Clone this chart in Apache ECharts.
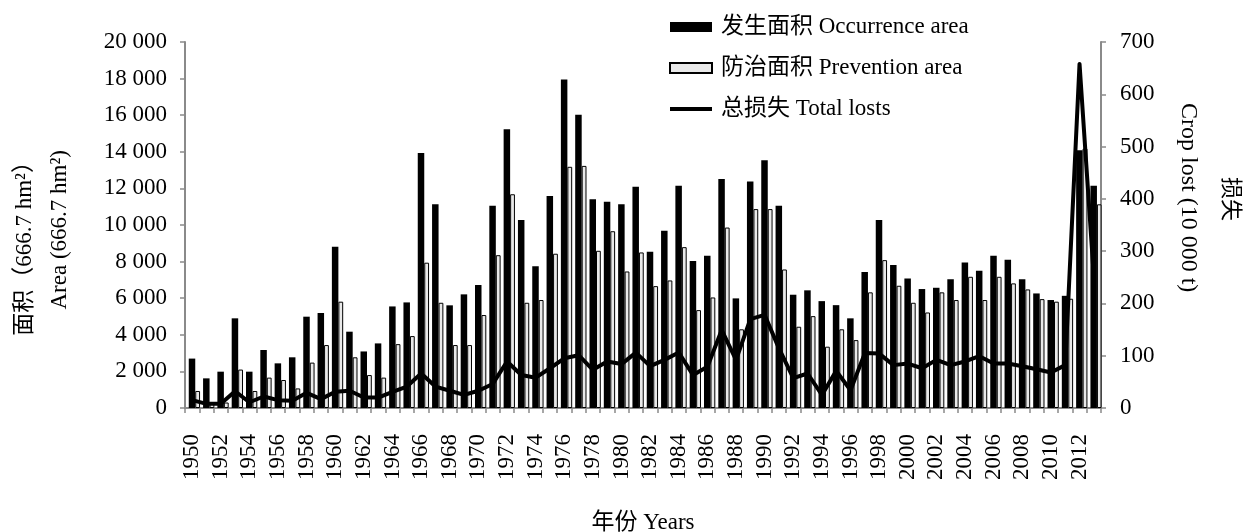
<!DOCTYPE html>
<html>
<head>
<meta charset="utf-8">
<script src="https://cdn.jsdelivr.net/npm/echarts@6/dist/echarts.min.js"></script>
<style>
  html, body { margin: 0; padding: 0; background: #fff; }
  #chart { width: 1245px; height: 532px; }
</style>
</head>
<body>
<div id="chart"></div>
<script>
// Years on the category axis
const years = [
  '1950','1951','1952','1953','1954','1955','1956','1957','1958','1959',
  '1960','1961','1962','1963','1964','1965','1966','1967','1968','1969',
  '1970','1971','1972','1973','1974','1975','1976','1977','1978','1979',
  '1980','1981','1982','1983','1984','1985','1986','1987','1988','1989',
  '1990','1991','1992','1993','1994','1995','1996','1997','1998','1999',
  '2000','2001','2002','2003','2004','2005','2006','2007','2008','2009',
  '2010','2011','2012','2013'
];

// 发生面积 Occurrence area (666.7 hm²)
const occurrenceArea = [
  2700, 1620, 1985, 4900, 1985, 3170, 2440, 2770, 4990, 5190,
  8810, 4170, 3090, 3530, 5550, 5770, 13940, 11140, 5610, 6210,
  6720, 11050, 15230, 10270, 7740, 11580, 17950, 16030, 11410, 11270,
  11140, 12090, 8540, 9680, 12140, 8030, 8320, 12520, 5990, 12380,
  13540, 11050, 6190, 6430, 5840, 5620, 4900, 7430, 10270, 7810,
  7080, 6500, 6570, 7030, 7950, 7500, 8320, 8100, 7030, 6260,
  5900, 6130, 14090, 12150
];

// 防治面积 Prevention area (666.7 hm²)
const preventionArea = [
  930, 300, 300, 2100, 930, 1660, 1530, 1070, 2480, 3440,
  5810, 2770, 1800, 1660, 3490, 3930, 7940, 5750, 3440, 3440,
  5080, 8350, 11680, 5750, 5900, 8430, 13180, 13230, 8590, 9660,
  7460, 8500, 6660, 6970, 8790, 5350, 6040, 9860, 4300, 10870,
  10870, 7570, 4440, 5020, 3350, 4300, 3710, 6320, 8080, 6680,
  5750, 5220, 6320, 5900, 7170, 5900, 7170, 6810, 6480, 5950,
  5810, 5970, 14180, 11130
];

// 总损失 Total losts (10 000 t)
const totalLosts = [
  15, 8, 8, 32, 11, 22, 15, 14, 29, 17,
  31, 33, 20, 20, 31, 41, 66, 41, 33, 25,
  33, 46, 89, 63, 58, 76, 95, 101, 73, 89,
  84, 106, 80, 92, 106, 63, 79, 149, 92, 170,
  178, 114, 57, 66, 25, 71, 34, 105, 104, 82,
  85, 76, 92, 82, 89, 99, 85, 85, 80, 74,
  68, 82, 658, 250
];

const seriesNames = ['发生面积 Occurrence area', '防治面积 Prevention area', '总损失 Total losts'];

const FONT = "'Liberation Serif', 'Times New Roman', 'Noto Sans CJK SC', serif";
const AXIS_GREY = '#8a8a8a';

// "20000" -> "20 000"
function spaced(v) {
  if (v < 1000) return String(v);
  return Math.floor(v / 1000) + ' ' + String(v % 1000).padStart(3, '0');
}

const chart = echarts.init(document.getElementById('chart'), null, { renderer: 'canvas' });

chart.setOption({
  animation: false,
  backgroundColor: '#fff',
  textStyle: { fontFamily: FONT, color: '#000' },
  grid: { left: 185, right: 144, top: 42, bottom: 124, containLabel: false, outerBoundsMode: 'none' },
  legend: {
    data: [
      { name: seriesNames[0], icon: 'rect' },
      { name: seriesNames[1], icon: 'rect' },
      // plain stroke for the loss line, no marker
      { name: seriesNames[2], icon: 'path://M0 0 L42 0 L42 4 L0 4 Z', itemStyle: { color: '#000' } }
    ],
    orient: 'vertical',
    left: 664,
    top: 10,
    itemWidth: 42,
    itemHeight: 10,
    itemGap: 17,
    textStyle: { fontFamily: FONT, fontSize: 23, color: '#000', lineHeight: 24, padding: [0, 0, 0, 4] },
    selectedMode: false
  },
  xAxis: {
    type: 'category',
    data: years,
    boundaryGap: true,
    name: '年份 Years',
    nameLocation: 'middle',
    nameGap: 103,
    nameTextStyle: { fontFamily: FONT, fontSize: 23, color: '#000' },
    axisLine: { lineStyle: { color: AXIS_GREY, width: 2 } },
    axisTick: { show: true, interval: 0, length: 5, lineStyle: { color: AXIS_GREY, width: 1.5 } },
    axisLabel: { interval: 1, rotate: 90, margin: 26, fontFamily: FONT, fontSize: 23, color: '#000' },
    splitLine: { show: false }
  },
  yAxis: [
    {
      type: 'value',
      min: 0, max: 20000, interval: 2000,
      position: 'left',
      axisLine: { show: true, lineStyle: { color: AXIS_GREY, width: 2 } },
      axisTick: { show: true, length: 5, lineStyle: { color: AXIS_GREY, width: 1.5 } },
      axisLabel: { margin: 18, fontFamily: FONT, fontSize: 23, color: '#000', formatter: spaced },
      splitLine: { show: false }
    },
    {
      type: 'value',
      min: 0, max: 700, interval: 100,
      position: 'right',
      axisLine: { show: true, lineStyle: { color: AXIS_GREY, width: 2 } },
      axisTick: { show: true, length: 5, lineStyle: { color: AXIS_GREY, width: 1.5 } },
      axisLabel: { margin: 19, fontFamily: FONT, fontSize: 23, color: '#000' },
      splitLine: { show: false }
    }
  ],
  series: [
    {
      // empty slot that nudges each pair of bars right of the year mark
      name: 'offset',
      type: 'bar',
      data: [],
      barWidth: 4.5,
      barGap: '0%',
      silent: true
    },
    {
      name: seriesNames[0],
      type: 'bar',
      data: occurrenceArea,
      barWidth: 6.5,
      barGap: '0%',
      itemStyle: { color: '#000' }
    },
    {
      name: seriesNames[1],
      type: 'bar',
      data: preventionArea,
      barWidth: 4.8,
      barGap: '0%',
      itemStyle: { color: '#e9e9e9', borderColor: '#000', borderWidth: 1 }
    },
    {
      name: seriesNames[2],
      type: 'line',
      yAxisIndex: 1,
      data: totalLosts,
      symbol: 'none',
      showSymbol: false,
      smooth: false,
      lineStyle: { color: '#000', width: 4, join: 'round', cap: 'round' },
      itemStyle: { color: '#000' },
      z: 5
    }
  ],
  graphic: [
    {
      type: 'text', x: 25, y: 150, rotation: Math.PI / 2,
      style: { text: '面积（666.7 hm²）', font: '23px ' + FONT, fill: '#000', align: 'right', verticalAlign: 'middle' }
    },
    {
      type: 'text', x: 60, y: 150, rotation: Math.PI / 2,
      style: { text: 'Area (666.7 hm²)', font: '23px ' + FONT, fill: '#000', align: 'right', verticalAlign: 'middle' }
    },
    {
      type: 'text', x: 1188, y: 103, rotation: -Math.PI / 2,
      style: { text: 'Crop lost (10 000 t)', font: '24px ' + FONT, fill: '#000', align: 'left', verticalAlign: 'middle' }
    },
    {
      type: 'text', x: 1230, y: 177, rotation: -Math.PI / 2,
      style: { text: '损失', font: '22px ' + FONT, fill: '#000', align: 'left', verticalAlign: 'middle' }
    }
  ]
});
</script>
</body>
</html>
